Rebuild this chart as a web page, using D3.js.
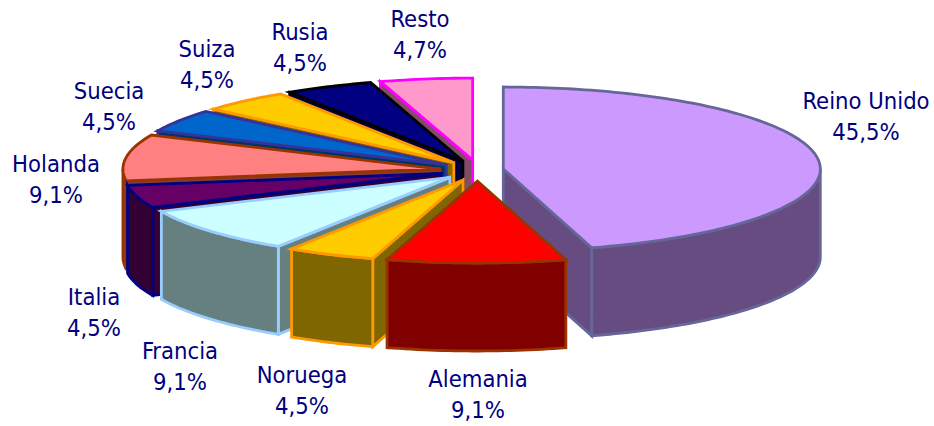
<!DOCTYPE html>
<html>
<head>
<meta charset="utf-8">
<style>
  html, body { margin: 0; padding: 0; background: #fff; }
  text { font-family: "DejaVu Sans Condensed", "DejaVu Sans", sans-serif; font-size: 23.6px; fill: #000080; }
</style>
<script src="https://cdn.jsdelivr.net/npm/d3@7"></script>
</head>
<body>
<div id="chart"></div>
<script>
// data, clockwise from 12 o'clock
var paises = ["Reino Unido", "Alemania", "Noruega", "Francia", "Italia", "Holanda", "Suecia", "Suiza", "Rusia", "Resto"];
var valores = [45.5, 9.1, 4.5, 9.1, 4.5, 9.1, 4.5, 4.5, 4.5, 4.7];

// colours per slice
var colTop = ["#CC99FF", "#FF0000", "#FFCC00", "#CCFFFF", "#660066", "#FF8080", "#0066CC", "#FFCC00", "#000080", "#FF99CC"];
var colSide = ["#664C80", "#800000", "#806600", "#668080", "#330033", "#804040", "#003366", "#806600", "#000040", "#804C66"];
var colLine = ["#666699", "#993300", "#FF9900", "#99CCFF", "#000080", "#993300", "#333399", "#FF9900", "#000000", "#FF00FF"];

// label centres (x, y of the first line)
var labelX = [866, 478, 302, 180, 94, 56, 109, 207, 300, 420];
var labelY = [109, 387, 383, 359, 305, 172, 99, 57, 40, 27];

// painter's order, back to front
var orden = [9, 8, 7, 6, 5, 4, 3, 2, 0, 1];

var width = 934, height = 426;
var cx = 471.5, cy = 170.5;
var rx = 317, ry = 82, depth = 88;
var pullX = 32, pullY = 10.5;

var xScale = d3.scaleLinear().domain([-1, 1]).range([-rx, rx]);
var yScale = d3.scaleLinear().domain([-1, 1]).range([ry, -ry]);

var pie = d3.pie().sort(null).value(function (d) { return d; }).startAngle(0).endAngle(2 * Math.PI);
var arcs = pie(valores);

var svg = d3.select("#chart")
    .append("svg")
    .attr("width", width)
    .attr("height", height)
    .style("display", "block");

var line = d3.line().curve(d3.curveLinear);

function apex(d) {
    var m = (d.startAngle + d.endAngle) / 2;
    var c = Math.cos(m);
    // the extra cos^2 term stands in for the perspective of the original
    return [cx + pullX * Math.sin(m) + 6 * c * c, cy - pullY * c];
}

function rimPoint(o, a, dz) {
    return [o[0] + xScale(Math.sin(a)), o[1] + yScale(Math.cos(a)) + dz];
}

function rimPoints(o, a0, a1, dz) {
    var n = Math.max(2, Math.ceil((a1 - a0) / 0.02));
    return d3.range(n + 1).map(function (i) {
        return rimPoint(o, a0 + (a1 - a0) * i / n, dz);
    });
}

function drawFace(pts, i, fill) {
    svg.append("path")
        .attr("d", line(pts) + "Z")
        .attr("fill", fill)
        .attr("stroke", colLine[i])
        .attr("stroke-width", 2.8)
        .attr("stroke-linejoin", "miter");
}

orden.forEach(function (i) {
    var d = arcs[i];
    var o = apex(d);
    var a0 = d.startAngle, a1 = d.endAngle;
    var oLow = [o[0], o[1] + depth];

    // cut faces, only when they turn to the viewer
    if (Math.cos(a0 - Math.PI / 2) < -0.001) {
        var p = rimPoint(o, a0, 0);
        drawFace([o, p, [p[0], p[1] + depth], oLow], i, colSide[i]);
    }
    if (Math.cos(a1 + Math.PI / 2) < -0.001) {
        var q = rimPoint(o, a1, 0);
        drawFace([o, q, [q[0], q[1] + depth], oLow], i, colSide[i]);
    }

    // outer wall on the front half
    var w0 = Math.max(a0, Math.PI / 2), w1 = Math.min(a1, 3 * Math.PI / 2);
    if (w1 > w0) {
        var top = rimPoints(o, w0, w1, 0);
        var low = rimPoints(o, w0, w1, depth).reverse();
        drawFace(top.concat(low), i, colSide[i]);
    }

    // top face
    drawFace([o].concat(rimPoints(o, a0, a1, 0)), i, colTop[i]);
});

// labels
var coma = function (v) { return d3.format(".1f")(v).replace(".", ",") + "%"; };

var labels = svg.selectAll(".label")
    .data(paises)
    .enter().append("g")
    .attr("class", "label")
    .attr("text-anchor", "middle")
    .attr("transform", function (d, i) { return "translate(" + labelX[i] + "," + labelY[i] + ")"; });

labels.append("text").text(function (d) { return d; });
labels.append("text").attr("y", 31).text(function (d, i) { return coma(valores[i]); });
</script>
</body>
</html>
